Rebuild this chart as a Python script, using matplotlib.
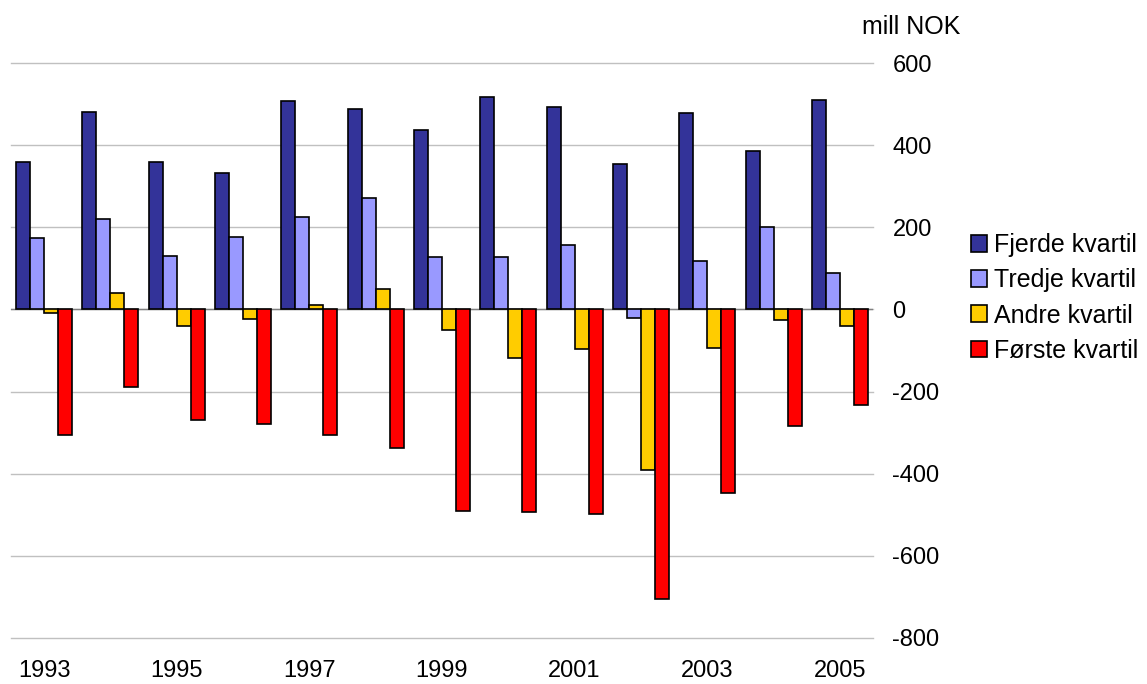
import numpy as np
import matplotlib
matplotlib.use("Agg")
import matplotlib.pyplot as plt

plt.rcParams["font.family"] = ["Liberation Sans", "DejaVu Sans"]
plt.rcParams["axes.unicode_minus"] = False

years = list(range(1993, 2006))
fjerde = [359, 480, 358, 331, 508, 488, 437, 517, 493, 354, 478, 385, 510]
tredje = [173, 221, 130, 176, 224, 271, 127, 127, 158, -20, 117, 200, 89]
andre = [-8, 41, -41, -24, 10, 49, -50, -118, -96, -390, -95, -26, -41]
forste = [-305, -190, -268, -280, -305, -337, -490, -492, -497, -704, -446, -285, -233]

series = [("Fjerde kvartil", fjerde, "#333399"),
          ("Tredje kvartil", tredje, "#9999ff"),
          ("Andre kvartil", andre, "#ffcc00"),
          ("Første kvartil", forste, "#ff0000")]

fig = plt.figure(figsize=(11.47, 6.84), dpi=100)
ax = fig.add_axes([11 / 1147, 46 / 684, 862 / 1147, 575 / 684])

x = np.arange(len(years))
w = 0.211
for i, (name, vals, col) in enumerate(series):
    ax.bar(x + (i - 1.5) * w, vals, w, color=col, edgecolor="black",
           linewidth=1.2, label=name, zorder=3)

ax.set_xlim(-0.5, len(years) - 0.5)
ax.set_ylim(-800, 600)
ax.set_yticks(range(-800, 601, 200))
ax.yaxis.tick_right()
ax.tick_params(axis="y", length=0, pad=14, labelsize=17)
ax.tick_params(axis="x", length=0, pad=16, labelsize=17)
ax.set_xticks(x[::2])
ax.set_xticklabels([str(y) for y in years[::2]])
for t in range(-800, 601, 200):
    ax.axhline(t, color="#c0c0c0", linewidth=1, zorder=0, clip_on=False)
ax.axhline(0, color="#808080", linewidth=1, zorder=2)
for s in ax.spines.values():
    s.set_visible(False)

fig.text(862 / 1147, 1 - 27 / 684, "mill NOK", fontsize=18, va="center", ha="left")

ax.legend(loc="center left", bbox_to_anchor=(971 / 1147, 1 - 298 / 684),
          bbox_transform=fig.transFigure, frameon=False, fontsize=18,
          handlelength=0.65, handleheight=0.65, handletextpad=0.25,
          labelspacing=0.45, borderaxespad=0, borderpad=0)

fig.savefig("out.png", dpi=100)
